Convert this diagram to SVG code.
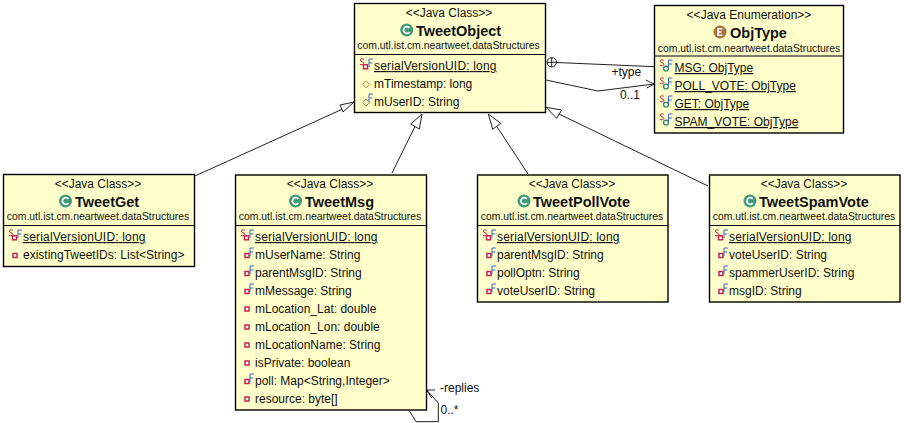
<svg xmlns="http://www.w3.org/2000/svg" width="904" height="423" viewBox="0 0 904 423">
<style>
text{font-family:"Liberation Sans",Arial,sans-serif;font-size:12px;fill:#111}
.box{fill:#ffffcc;stroke:#000;stroke-width:1.4}
.div{stroke:#000;stroke-width:1.2;fill:none}
.st{text-anchor:middle}
.nm{text-anchor:start;font-weight:bold;font-size:14.500px}
.pk{text-anchor:middle;font-size:10.400px}
.u{text-decoration:underline}
.ln{fill:none;stroke:#222;stroke-width:1}
.tri{fill:#fff;stroke:#222;stroke-width:1}
</style>
<defs>
<g id="cls"><circle r="6.500" fill="#3f9a78"/><path d="M2.800-2A3.300 3.300 0 1 0 2.800 2" fill="none" stroke="#fff" stroke-width="1.700"/></g>
<g id="enu"><circle r="6.500" fill="#a8703c"/><path d="M2.400-3.200H-2V3.200H2.400M-2 0H1.600" fill="none" stroke="#fff" stroke-width="1.500"/></g>
<rect id="pri" x="-2" y="-2" width="4" height="4" fill="#fff" stroke="#c8244a" stroke-width="1.500"/>
<path id="pkg" d="M0-3.500L3.500 0L0 3.500L-3.500 0Z" fill="#fff8d8" stroke="#c08a20" stroke-width="1"/>
<circle id="pub" r="2.400" fill="#fff" stroke="#2a8a60" stroke-width="1.400"/>
<path id="F" d="M0 2V-6H4M0-2H3.400" fill="none" stroke="#3a66c0" stroke-width="1"/>
<path id="S" d="M3.800-5.600C2.800-6.600 .4-6.400 .4-4.800C.4-3.200 3.800-3.400 3.800-1.600C3.800-.2 1.200 .2 0-.6" fill="none" stroke="#c01848" stroke-width="1"/>
</defs>
<g id="connectors">
<path class="ln" d="M195 176L345 108"/>
<path class="tri" d="M354 102L340 105L343 112Z"/>
<path class="ln" d="M392 173L415 126.500"/>
<path class="tri" d="M422 114L410.700 124L419.300 129Z"/>
<path class="ln" d="M528 174L496.700 126.300"/>
<path class="tri" d="M488.300 114L500.700 123.300L492.700 129.300Z"/>
<path class="ln" d="M708 186L559 114"/>
<path class="tri" d="M546 107.300L561.700 110L556.700 118.300Z"/>
<circle cx="551.700" cy="62.300" r="4.700" fill="#fff" stroke="#222"/>
<path class="ln" d="M547 62.300H556.400M551.700 57.600V67M556.400 62.500L654 66.700"/>
<path class="ln" d="M546 80L598 91L654 84M646 80L654 84L646.700 88"/>
<path class="ln" d="M409.500 411L416 421.700H438.300V403L426.700 390M435 390L426.700 390L431.700 398"/>
</g>
<g id="TweetObject">
<rect class="box" x="354.500" y="3.500" width="191" height="109"/><path class="div" d="M354.500 54.500H545.500"/>
<text class="st" x="449" y="17">&lt;&lt;Java Class&gt;&gt;</text>
<use href="#cls" x="406.700" y="30"/><text class="nm" x="416" y="35.500">TweetObject</text>
<text class="pk" x="448.500" y="49">com.utl.ist.cm.neartweet.dataStructures</text>
<text class="u" x="374" y="70" textLength="122.500">serialVersionUID: long</text>
<text x="374" y="88">mTimestamp: long</text>
<text x="374" y="106">mUserID: String</text>
<use href="#S" x="360" y="65"/><use href="#pri" x="365.500" y="66.800"/><use href="#F" x="369" y="65"/>
<use href="#pkg" x="366" y="84.300"/>
<use href="#pkg" x="366" y="102.500"/><use href="#F" x="369" y="100"/>
</g>
<g id="ObjType">
<rect class="box" x="654.500" y="5.500" width="189" height="127.500"/><path class="div" d="M654.500 56H843.500"/>
<text class="st" x="749" y="19">&lt;&lt;Java Enumeration&gt;&gt;</text>
<use href="#enu" x="720" y="32"/><text class="nm" x="730" y="37.500">ObjType</text>
<text class="pk" x="749" y="52">com.utl.ist.cm.neartweet.dataStructures</text>
<text class="u" x="674.500" y="72">MSG: ObjType</text>
<text class="u" x="674.500" y="90">POLL_VOTE: ObjType</text>
<text class="u" x="674.500" y="108">GET: ObjType</text>
<text class="u" x="674.500" y="126">SPAM_VOTE: ObjType</text>
<g id="e1"><use href="#S" x="660" y="66"/><use href="#pub" x="666" y="68.500"/><use href="#F" x="668.500" y="66"/></g>
<use href="#e1" y="18"/><use href="#e1" y="36"/><use href="#e1" y="54"/>
</g>
<g id="TweetGet">
<rect class="box" x="3.500" y="174.500" width="191" height="92"/><path class="div" d="M3.500 225.500H194.500"/>
<text class="st" x="98" y="188">&lt;&lt;Java Class&gt;&gt;</text>
<use href="#cls" x="65.500" y="201"/><text class="nm" x="75" y="206.500">TweetGet</text>
<text class="pk" x="98" y="220">com.utl.ist.cm.neartweet.dataStructures</text>
<text class="u" x="23" y="241" textLength="122.500">serialVersionUID: long</text>
<text x="23" y="259">existingTweetIDs: List&lt;String&gt;</text>
<use href="#S" x="9" y="236"/><use href="#pri" x="14.500" y="237.800"/><use href="#F" x="18" y="236"/>
<use href="#pri" x="15" y="255.500"/>
</g>
<g id="TweetMsg">
<rect class="box" x="235.500" y="175" width="191" height="235"/><path class="div" d="M235.500 225.500H426.500"/>
<text class="st" x="330" y="188">&lt;&lt;Java Class&gt;&gt;</text>
<use href="#cls" x="295.500" y="201"/><text class="nm" x="305" y="206.500">TweetMsg</text>
<text class="pk" x="330" y="220">com.utl.ist.cm.neartweet.dataStructures</text>
<text class="u" x="255" y="241" textLength="122.500">serialVersionUID: long</text>
<text x="255" y="259">mUserName: String</text>
<text x="255" y="277">parentMsgID: String</text>
<text x="255" y="295">mMessage: String</text>
<text x="255" y="313">mLocation_Lat: double</text>
<text x="255" y="331">mLocation_Lon: double</text>
<text x="255" y="349">mLocationName: String</text>
<text x="255" y="367">isPrivate: boolean</text>
<text x="255" y="385">poll: Map&lt;String,Integer&gt;</text>
<text x="255" y="403">resource: byte[]</text>
<use href="#S" x="241" y="236"/><use href="#pri" x="246.500" y="237.800"/><use href="#F" x="250" y="236"/>
<use href="#pri" x="247" y="255.500"/><use href="#F" x="250" y="254"/>
<use href="#pri" x="247" y="273.500"/><use href="#F" x="250" y="272"/>
<use href="#pri" x="247" y="291.500"/><use href="#F" x="250" y="290"/>
<use href="#pri" x="247" y="309"/><use href="#pri" x="247" y="327"/><use href="#pri" x="247" y="345"/><use href="#pri" x="247" y="363"/>
<use href="#pri" x="247" y="381.500"/><use href="#F" x="250" y="380"/>
<use href="#pri" x="247" y="399"/>
</g>
<g id="TweetPollVote">
<rect class="box" x="477.500" y="175" width="190.500" height="127"/><path class="div" d="M477.500 225.500H668"/>
<text class="st" x="572" y="188">&lt;&lt;Java Class&gt;&gt;</text>
<use href="#cls" x="524" y="201"/><text class="nm" x="533" y="206.500">TweetPollVote</text>
<text class="pk" x="572" y="220">com.utl.ist.cm.neartweet.dataStructures</text>
<text class="u" x="497" y="241" textLength="122.500">serialVersionUID: long</text>
<text x="497" y="259">parentMsgID: String</text>
<text x="497" y="277">pollOptn: String</text>
<text x="497" y="295">voteUserID: String</text>
<use href="#S" x="483" y="236"/><use href="#pri" x="488.500" y="237.800"/><use href="#F" x="492" y="236"/>
<use href="#pri" x="489" y="255.500"/><use href="#F" x="492" y="254"/>
<use href="#pri" x="489" y="273.500"/><use href="#F" x="492" y="272"/>
<use href="#pri" x="489" y="291.500"/><use href="#F" x="492" y="290"/>
</g>
<g id="TweetSpamVote">
<rect class="box" x="709.500" y="175" width="190.500" height="127"/><path class="div" d="M709.500 225.500H900"/>
<text class="st" x="804" y="188">&lt;&lt;Java Class&gt;&gt;</text>
<use href="#cls" x="750" y="201"/><text class="nm" x="759" y="206.500">TweetSpamVote</text>
<text class="pk" x="804" y="220">com.utl.ist.cm.neartweet.dataStructures</text>
<text class="u" x="729" y="241" textLength="122.500">serialVersionUID: long</text>
<text x="729" y="259">voteUserID: String</text>
<text x="729" y="277">spammerUserID: String</text>
<text x="729" y="295">msgID: String</text>
<use href="#S" x="715" y="236"/><use href="#pri" x="720.500" y="237.800"/><use href="#F" x="724" y="236"/>
<use href="#pri" x="721" y="255.500"/><use href="#F" x="724" y="254"/>
<use href="#pri" x="721" y="273.500"/><use href="#F" x="724" y="272"/>
<use href="#pri" x="721" y="291.500"/><use href="#F" x="724" y="290"/>
</g>
<g id="labels">
<text x="611.500" y="76">+type</text>
<text x="620" y="98.500">0..1</text>
<text x="440" y="391.500">-replies</text>
<text x="440.500" y="414">0..*</text>
</g>
</svg>
